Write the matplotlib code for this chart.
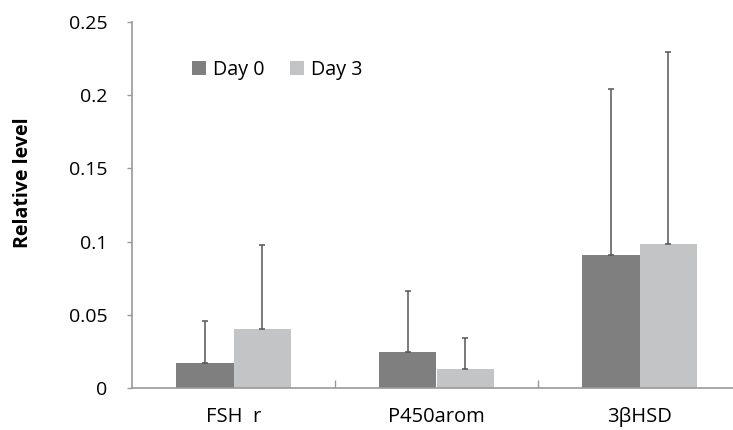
import matplotlib
matplotlib.use("Agg")
import matplotlib.pyplot as plt
import numpy as np

categories = ["FSH  r", "P450arom", "3βHSD"]
series_names = ["Day 0", "Day 3"]
day0 = [0.0173, 0.0248, 0.0911]
day3 = [0.0401, 0.0130, 0.0984]
day0_err = [0.0285, 0.0417, 0.1129]
day3_err = [0.0576, 0.0214, 0.1311]
yticks = [0, 0.05, 0.1, 0.15, 0.2, 0.25]
ytick_labels = ["0", "0.05", "0.1", "0.15", "0.2", "0.25"]

plt.rcParams['font.family'] = ['Open Sans', 'DejaVu Sans']

fig = plt.figure(figsize=(7.33, 4.30), dpi=100)
ax = fig.add_axes([132/733, 42/430, 609/733, 366/430])

x = np.arange(len(categories))
w = 0.285
c0 = "#7f7f7f"
c3 = "#c3c4c5"
ecol = "#555555"
ax.bar(x - w/2, day0, w, color=c0, label=series_names[0], zorder=2)
ax.bar(x + w/2, day3, w, color=c3, label=series_names[1], zorder=2)
ax.errorbar(x - w/2, day0, yerr=[np.zeros(3), day0_err], fmt="none",
            ecolor=ecol, elinewidth=1.1, capsize=2.5, capthick=1.1, zorder=3)
ax.errorbar(x + w/2, day3, yerr=[np.zeros(3), day3_err], fmt="none",
            ecolor=ecol, elinewidth=1.1, capsize=2.5, capthick=1.1, zorder=3)

ax.set_xlim(-0.5, 2.5)
ax.set_ylim(0, 0.25)
ax.set_yticks(yticks)
ax.set_yticklabels(ytick_labels, fontsize=14)
ax.set_xticks(x)
ax.set_xticklabels(categories, fontsize=14.5)
ax.tick_params(axis='x', length=0, pad=14)
ax.set_xticks([0.5, 1.5], minor=True)
ax.tick_params(axis='x', which='minor', direction='in', length=6, color="#999999", width=1)
ax.tick_params(axis='y', direction='out', length=3.5, color="#999999", width=1, pad=14)

for s in ["top", "right"]:
    ax.spines[s].set_visible(False)
for s in ["left", "bottom"]:
    ax.spines[s].set_color("#999999")
    ax.spines[s].set_linewidth(1.2)

ax.set_ylabel("Relative level", fontsize=14, fontweight="bold")
ax.yaxis.set_label_coords(-0.163, 0.56)

ax.legend(loc="upper left", bbox_to_anchor=(0.07, 0.945), ncol=2, frameon=False,
          fontsize=14.2, handlelength=0.7, handleheight=0.7, handletextpad=0.35,
          columnspacing=1.3)

fig.savefig("out.png", dpi=100)
